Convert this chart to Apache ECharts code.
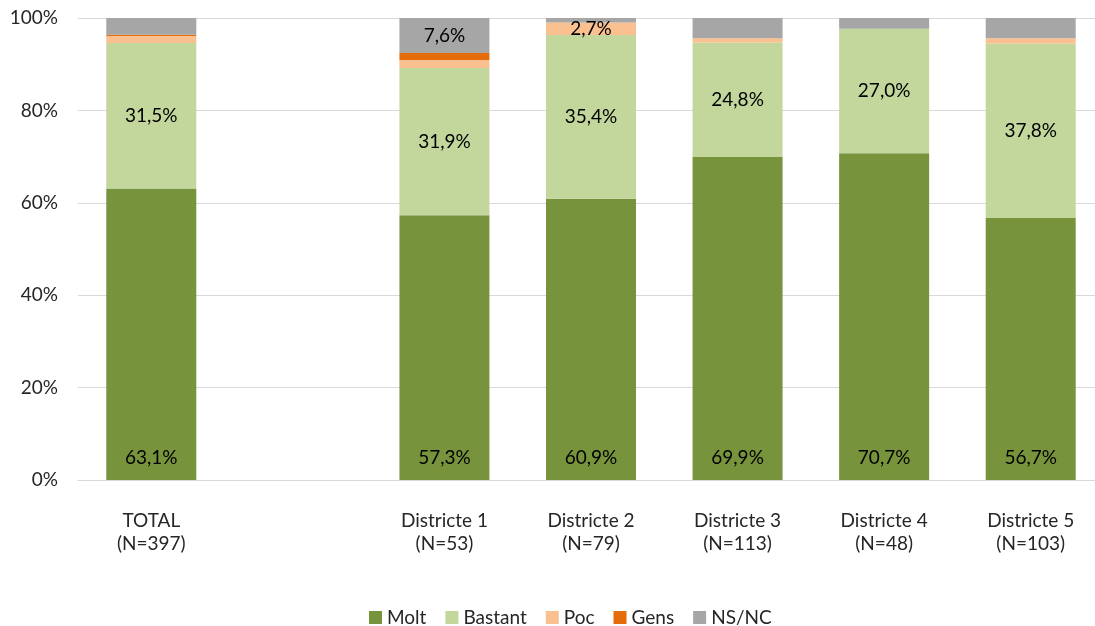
<!DOCTYPE html>
<html>
<head>
<meta charset="utf-8">
<script src="https://cdn.jsdelivr.net/npm/echarts@6/dist/echarts.min.js"></script>
<style>
html,body{margin:0;padding:0;background:#fff;}
#chart{width:1095px;height:626px;}
</style>
</head>
<body>
<div id="chart"></div>
<script>
var categories = ['TOTAL\n(N=397)', '', 'Districte 1\n(N=53)', 'Districte 2\n(N=79)', 'Districte 3\n(N=113)', 'Districte 4\n(N=48)', 'Districte 5\n(N=103)'];
var molt    = [63.1, null, 57.3, 60.9, 69.9, 70.7, 56.7];
var bastant = [31.5, null, 31.9, 35.4, 24.8, 27.0, 37.8];
var poc     = [1.5,  null, 1.7,  2.7,  0.9,  0.0,  1.1];
var gens    = [0.3,  null, 1.5,  0.0,  0.0,  0.0,  0.0];
var nsnc    = [3.6,  null, 7.6,  1.0,  4.4,  2.3,  4.4];
var yTicks  = [0, 20, 40, 60, 80, 100];

var pocLabelShown  = [false, false, false, true, false, false, false];
var nsncLabelShown = [false, false, true, false, false, false, false];

function fmt(v) { return v.toFixed(1).replace('.', ',') + '%'; }
var FONT = 'Lato, "Liberation Sans", sans-serif';
var labelBase = { color: '#000', fontSize: 19, fontFamily: FONT, formatter: function (p) { return fmt(p.value); } };

function withLabels(arr, flags) {
  return arr.map(function (v, i) {
    return { value: v, label: { show: !!flags[i] } };
  });
}

var chart = echarts.init(document.getElementById('chart'));
chart.setOption({
  animation: false,
  grid: { left: 78, top: 18, width: 1026, height: 462, containLabel: false, outerBoundsMode: 'none' },
  legend: {
    top: 608,
    left: 369,
    icon: 'rect',
    itemWidth: 13,
    itemHeight: 13,
    itemGap: 19,
    padding: 0,
    textStyle: { fontSize: 19, color: '#262626', fontFamily: FONT },
    data: ['Molt', 'Bastant', 'Poc', 'Gens', 'NS/NC']
  },
  xAxis: {
    type: 'category',
    data: categories,
    axisTick: { show: false },
    axisLine: { lineStyle: { color: '#D9D9D9' } },
    axisLabel: { color: '#262626', fontSize: 19, fontFamily: FONT, lineHeight: 23, margin: 29, interval: 0 }
  },
  yAxis: {
    type: 'value',
    min: 0, max: 100, interval: 20,
    axisLabel: { color: '#262626', fontSize: 19, fontFamily: FONT, margin: 20, formatter: function (v) { return yTicks.indexOf(v) >= 0 ? v + '%' : ''; } },
    splitLine: { lineStyle: { color: '#D9D9D9' } },
    axisLine: { show: false },
    axisTick: { show: false }
  },
  series: [
    { name: 'Molt', type: 'bar', stack: 's', barWidth: 90, data: molt, itemStyle: { color: '#77933C' },
      label: Object.assign({ show: true, position: 'insideBottom', distance: 13 }, labelBase) },
    { name: 'Bastant', type: 'bar', stack: 's', data: bastant, itemStyle: { color: '#C3D69B' },
      label: Object.assign({ show: true, position: 'inside' }, labelBase) },
    { name: 'Poc', type: 'bar', stack: 's', data: withLabels(poc, pocLabelShown), itemStyle: { color: '#FAC090' },
      label: Object.assign({ position: 'inside' }, labelBase) },
    { name: 'Gens', type: 'bar', stack: 's', data: gens, itemStyle: { color: '#E46C0A' } },
    { name: 'NS/NC', type: 'bar', stack: 's', data: withLabels(nsnc, nsncLabelShown), itemStyle: { color: '#A6A6A6' },
      label: Object.assign({ position: 'inside' }, labelBase) }
  ]
});
</script>
</body>
</html>
